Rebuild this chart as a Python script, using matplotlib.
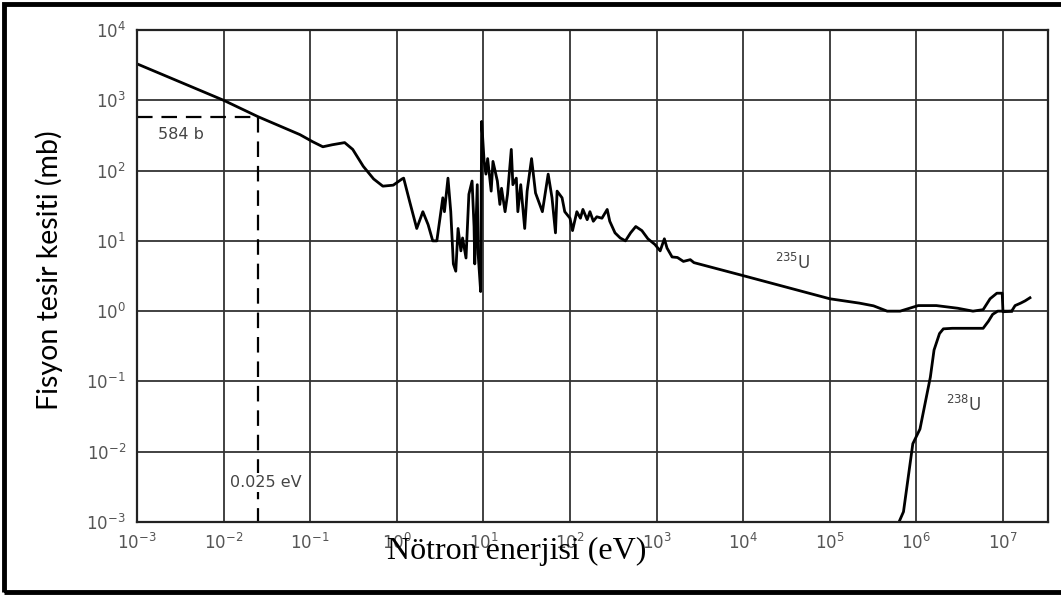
import matplotlib
matplotlib.use('Agg')

import matplotlib.pyplot as plt
from matplotlib.patches import Rectangle

# U-235 fission cross section
e235 = [0.001, 0.01, 0.025, 0.076, 0.107, 0.14, 0.18, 0.25, 0.31, 0.41, 0.54, 0.69, 0.91,
        1.15, 1.2, 1.41, 1.7, 2.0, 2.3, 2.6, 2.9, 3.4, 3.55, 3.9, 4.2, 4.5, 4.8, 5.1, 5.5,
        5.75, 6.3, 6.8, 7.4, 7.8, 7.95, 8.5, 8.7, 9.3, 9.55, 10.2, 10.7, 11.2, 12.3, 12.9,
        14.5, 15.5, 16.2, 17.8, 19, 21, 21.9, 24, 25, 27, 30, 32, 36, 40, 48, 56, 62, 68,
        71, 81, 87, 100, 107, 120, 132, 141, 158, 170, 186, 204, 234, 269, 288, 331, 380,
        437, 501, 575, 676, 794, 955, 1100, 1230, 1320, 1510, 1740, 2040, 2450, 2700,
        1e4, 1e5, 2.2e5, 3.2e5, 4.6e5, 6.5e5, 1.05e6, 1.7e6, 3e6, 4.5e6, 5.9e6, 7.1e6,
        8.5e6, 9.8e6, 1.0e7, 1.26e7, 1.38e7, 1.6e7, 1.8e7, 2.05e7]
s235 = [3300, 1000, 584, 325, 257, 218, 233, 250, 200, 115, 76, 60, 62,
        76, 78, 36, 15, 26, 17, 10, 10, 41, 26, 78, 26, 4.7, 3.7, 15, 7.2,
        11, 5.7, 46, 71, 16, 4.7, 63, 6.5, 1.9, 500, 135, 89, 148, 51, 135,
        71, 33, 56, 26, 46, 200, 63, 78, 26, 63, 15, 51, 148, 48, 26, 89, 41, 13,
        51, 41, 26, 21, 14, 26, 21, 28, 20, 26, 19, 22, 21, 28, 19, 13, 11,
        10, 13, 16, 14, 10.7, 8.9, 7.2, 10.7, 7.9, 5.9, 5.8, 5.1, 5.4, 4.9,
        3.2, 1.5, 1.3, 1.19, 1.0, 1.0, 1.2, 1.2, 1.1, 1.0, 1.05, 1.5,
        1.8, 1.8, 0.98, 1.0, 1.2, 1.3, 1.4, 1.55]

# U-238 fission cross section
e238 = [6.3e5, 7.1e5, 9.1e5, 1.1e6, 1.45e6, 1.6e6, 1.85e6, 2.05e6, 2.6e6, 5.9e6,
        6.8e6, 7.6e6, 8.7e6, 1.26e7]
s238 = [0.001, 0.0014, 0.013, 0.021, 0.115, 0.28, 0.48, 0.56, 0.57, 0.57,
        0.72, 0.9, 1.0, 1.0]

thermal_e = 0.025
thermal_s = 584

xticks = [1e-3, 1e-2, 1e-1, 1e0, 1e1, 1e2, 1e3, 1e4, 1e5, 1e6, 1e7]
yticks = [1e-3, 1e-2, 1e-1, 1e0, 1e1, 1e2, 1e3, 1e4]
xticklabels = [r'$10^{-3}$', r'$10^{-2}$', r'$10^{-1}$', r'$10^{0}$', r'$10^{1}$', r'$10^{2}$',
               r'$10^{3}$', r'$10^{4}$', r'$10^{5}$', r'$10^{6}$', r'$10^{7}$']
yticklabels = [r'$10^{-3}$', r'$10^{-2}$', r'$10^{-1}$', r'$10^{0}$', r'$10^{1}$', r'$10^{2}$',
               r'$10^{3}$', r'$10^{4}$']

fig = plt.figure(figsize=(10.61, 5.95), dpi=100)
ax = fig.add_axes([137/1061, 73/595, (1048-137)/1061, (522-30)/595])

ax.set_xscale('log')
ax.set_yscale('log')
ax.set_xlim(1e-3, 10**7.52)
ax.set_ylim(1e-3, 1e4)

ax.grid(True, which='major', color='#333333', linewidth=1.3)
ax.minorticks_off()
ax.set_xticks(xticks)
ax.set_xticklabels(xticklabels)
ax.set_yticks(yticks)
ax.set_yticklabels(yticklabels)
ax.tick_params(length=0, labelsize=12, labelcolor='#555555', pad=8)
for sp in ax.spines.values():
    sp.set_color('#222222')
    sp.set_linewidth(1.6)

# curves
ax.plot(e235, s235, color='black', linewidth=2.0)
ax.plot(e238, s238, color='black', linewidth=2.0)

# thermal point markers
ax.plot([1e-3, thermal_e], [thermal_s, thermal_s], color='black', linewidth=1.6,
        dashes=(7, 4))
ax.plot([thermal_e, thermal_e], [thermal_s, 1e-3], color='black', linewidth=1.6,
        dashes=(7, 4))

ax.text(1.75e-3, 325, '584 b', fontsize=11.5, color='#444444', va='center', ha='left')
ax.text(0.031, 0.0036, '0.025 eV', fontsize=11.5, color='#444444', va='center', ha='center',
        bbox=dict(facecolor='white', edgecolor='none', pad=1.5))
ax.text(3.76e4, 4.85, r'$^{235}$U', fontsize=12, color='#444444', va='center', ha='center')
ax.text(3.5e6, 0.047, r'$^{238}$U', fontsize=12, color='#444444', va='center', ha='center')

fig.text(517/1061, 1 - 551/595, 'Nötron enerjisi (eV)', fontsize=23,
         family='Liberation Serif', ha='center', va='center')
fig.text(49/1061, 1 - 270/595, 'Fisyon tesir kesiti (mb)', fontsize=20.5,
         family='Lato', rotation=90, ha='center', va='center')

# outer frame of the slide image
fig.patches.append(Rectangle((4/1061, 3/595), 1060/1061, 588/595, transform=fig.transFigure,
                             fill=False, edgecolor='black', linewidth=3.5))

fig.savefig('out.png', dpi=100)
